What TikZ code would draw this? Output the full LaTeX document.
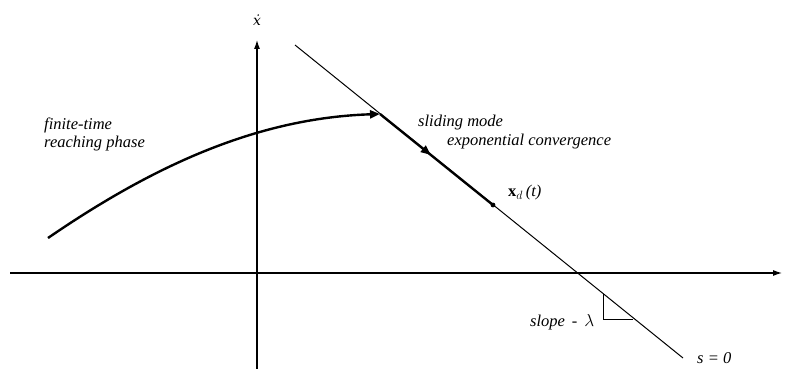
\documentclass[tikz,border=0pt]{standalone}
\usepackage{fontspec}
\setmainfont{Liberation Serif}
\newfontfamily\dvserif{DejaVu Serif}
\usetikzlibrary{arrows.meta,decorations.markings}
\begin{document}
\begin{tikzpicture}[x=1pt,y=-1pt,
  axis/.style={line width=1.1pt,-{Latex[length=9pt,width=6pt]}},
  lbl/.style={font=\fontsize{16.5}{18}\selectfont\itshape, inner sep=0pt},
  thin/.style={line width=1pt},
  thick/.style={line width=2.4pt}]
\useasboundingbox (0,0) rectangle (787,369);
% axes
\coordinate (hl) at (10,273);
\coordinate (hr) at (782,273);
\coordinate (vb) at (257,369);
\coordinate (vt) at (257,40);
\draw[axis] (hl) -- (hr);
\draw[axis] (vb) -- (vt);
\node[inner sep=0pt,font=\dvserif\itshape\fontsize{14}{16}\selectfont,anchor=base] (xdot) at (257,26) {ẋ};
% sliding line s=0
\coordinate (sA) at (295,45);
\coordinate (sB) at (683,358);
\draw[thin] (sA) -- (sB);
% reaching curve
\coordinate (c0) at (48,238);
\coordinate (hit) at (380,114);
\draw[thick,-{Triangle[length=10pt,width=8pt]}] (c0) .. controls (150,168) and (255,118) .. (hit);
% thick sliding segment
\coordinate (xd) at (493,205);
\draw[thick,decoration={markings,mark=at position 0.45 with {\arrow{Triangle[length=10pt,width=8pt]}}},postaction={decorate}] (hit) -- (xd);
\fill (xd) circle (2.4pt);
% slope triangle
\coordinate (t1) at (603,294);
\coordinate (t2) at (603,319);
\coordinate (t3) at (633,319);
\draw[thin] (t1) -- (t2) -- (t3);
% labels
\node[lbl,anchor=west,align=left] (reach) at (44,134) {finite-time\\reaching phase};
\node[lbl,anchor=west] (slide) at (418,123) {sliding mode};
\node[lbl,anchor=west] (expc) at (447,142) {exponential convergence};
\node[lbl,anchor=west] (xdl) at (508,193) {$\mathbf{x}_{d}$\,(t)};
\node[lbl,anchor=west] (slope) at (530,322) {slope\, -\, $\lambda$};
\node[lbl,anchor=west] (s0) at (697,358) {s = 0};
\end{tikzpicture}
\end{document}
